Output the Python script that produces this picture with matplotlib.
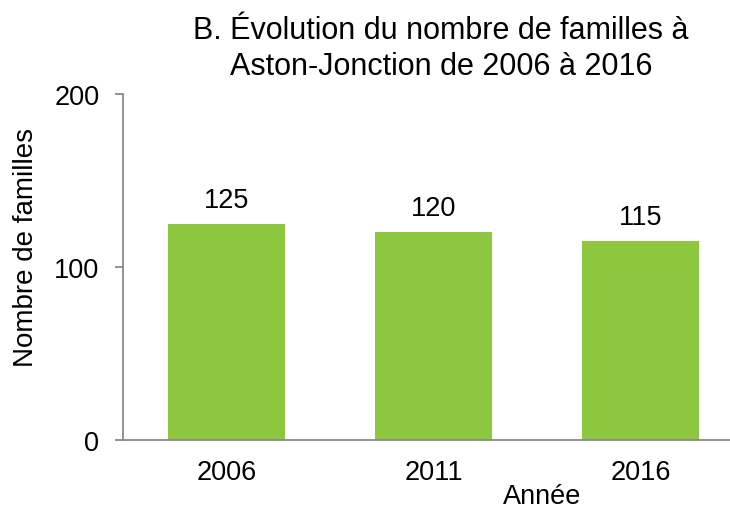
import matplotlib
matplotlib.use('Agg')
import matplotlib.pyplot as plt

# Données du graphique
annees = ['2006', '2011', '2016']
familles = [125, 120, 115]
y_ticks = [0, 100, 200]

titre_1 = 'B. Évolution du nombre de familles à'
titre_2 = 'Aston-Jonction de 2006 à 2016'
label_y = 'Nombre de familles'
label_x = 'Année'

vert = '#8DC63F'
gris = '#898989'

plt.rcParams['font.family'] = ['Liberation Sans', 'DejaVu Sans']

W, H = 730, 510
fig = plt.figure(figsize=(W / 100, H / 100), dpi=100)
# Zone de tracé (la droite déborde un peu de l'image, comme dans l'original)
ax = fig.add_axes([123 / W, (H - 441) / H, 621 / W, (441 - 95) / H])

x = list(range(len(annees)))
ax.bar(x, familles, width=0.565, color=vert, zorder=2)

ax.set_xlim(-0.5, len(annees) - 0.5)
ax.set_ylim(0, 200)
ax.set_yticks(y_ticks)
ax.set_xticks(x)
ax.set_xticklabels(annees)

# Étiquettes de valeurs au-dessus des barres
for xi, v in zip(x, familles):
    ax.annotate(str(v), (xi, v), xytext=(0, 12.2), textcoords='offset points',
                ha='center', va='baseline', fontsize=19.5)

# Axes
for side in ['top', 'right']:
    ax.spines[side].set_visible(False)
ax.spines['left'].set_color(gris)
ax.spines['bottom'].set_color(gris)
ax.spines['left'].set_linewidth(1.3)
ax.spines['bottom'].set_linewidth(1.3)
ax.tick_params(axis='y', length=6, width=1.3, color=gris, pad=11, labelsize=19.5)
ax.tick_params(axis='x', length=0, pad=14, labelsize=19.5)

# Titres
fig.text(441 / W, 1 - 39 / H, titre_1, ha='center', va='baseline', fontsize=22)
fig.text(441 / W, 1 - 75 / H, titre_2, ha='center', va='baseline', fontsize=22)
fig.text(26 / W, 1 - 247.5 / H, label_y, rotation=90,
         ha='center', va='center', fontsize=20)
fig.text(542 / W, 1 - 504 / H, label_x, ha='center', va='baseline', fontsize=19.5)

fig.savefig('out.png', dpi=100)
